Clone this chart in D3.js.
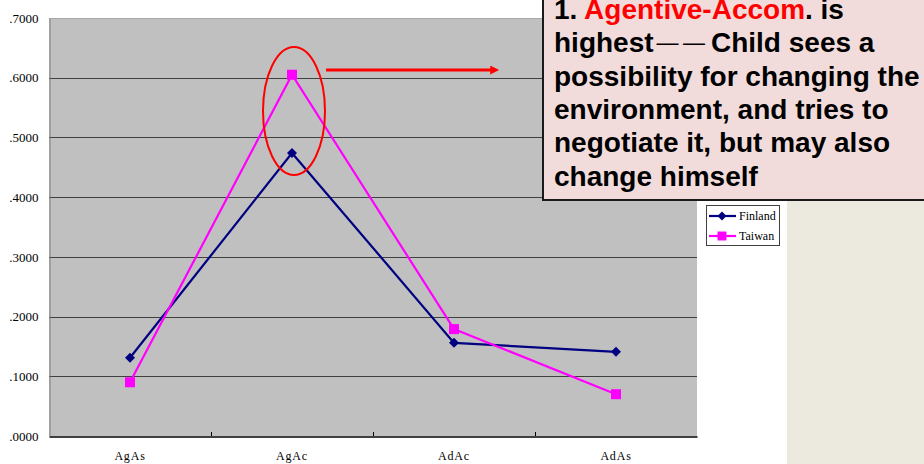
<!DOCTYPE html>
<html>
<head>
<meta charset="utf-8">
<script src="https://cdn.jsdelivr.net/npm/d3@7"></script>
<style>
  html, body { margin: 0; padding: 0; background: #fff; }
  svg { display: block; }
</style>
</head>
<body>
<div id="chart"></div>
<script>
// categories and series
const categories = ["AgAs", "AgAc", "AdAc", "AdAs"];
const finland = [0.131, 0.474, 0.156, 0.141];
const taiwan = [0.090, 0.605, 0.179, 0.070];
const yTicks = [0, 0.1, 0.2, 0.3, 0.4, 0.5, 0.6, 0.7];
// note text, split in runs (red highlight, thin dashes)
const noteLines = [
  [{ t: "1. " }, { t: "Agentive-Accom", c: "#ff0000" }, { t: ". is" }],
  [{ t: "highest" }, { t: "\u2014\u2009\u2014", dash: true }, { t: "Child sees a", after: true }],
  [{ t: "possibility for changing the" }],
  [{ t: "environment, and tries to" }],
  [{ t: "negotiate it, but may also" }],
  [{ t: "change himself" }]
];

const W = 924, H = 464;
const plot = { left: 49, right: 697, top: 18, bottom: 436 };
const serif = "'Liberation Serif', 'DejaVu Serif', serif";

const svg = d3.select("#chart").append("svg")
  .attr("width", W).attr("height", H);

// slide background on the right
svg.append("rect")
  .attr("x", 787).attr("y", 0)
  .attr("width", W - 787).attr("height", H)
  .attr("fill", "#ece9df");

const x = d3.scaleBand()
  .domain(categories)
  .range([plot.left, plot.right]);

const y = d3.scaleLinear()
  .domain([0, 0.7])
  .range([plot.bottom, plot.top]);

// plot area
svg.append("rect")
  .attr("x", plot.left).attr("y", plot.top)
  .attr("width", plot.right - plot.left)
  .attr("height", plot.bottom - plot.top)
  .attr("fill", "#c0c0c0");

// gridlines
svg.append("g")
  .selectAll("line")
  .data(yTicks.filter(d => d > 0))
  .join("line")
  .attr("x1", plot.left).attr("x2", plot.right)
  .attr("y1", d => Math.round(y(d)) + 0.5)
  .attr("y2", d => Math.round(y(d)) + 0.5)
  .attr("stroke", d => d === 0.7 ? "#a8a8a8" : "#404040")
  .attr("stroke-width", 1);

// y axis
const yAxis = svg.append("g")
  .attr("transform", `translate(${plot.left + 0.5},0)`)
  .call(d3.axisLeft(y).tickValues(yTicks).tickSize(0).tickPadding(11)
    .tickFormat(d => d3.format(".4f")(d).replace(/^0/, "")));
yAxis.select(".domain").attr("stroke", "#808080");
yAxis.selectAll("text")
  .attr("font-family", serif)
  .attr("font-size", "13px")
  .attr("fill", "#000");

// x axis
const xAxis = svg.append("g")
  .attr("transform", `translate(0,${plot.bottom + 0.5})`)
  .call(d3.axisBottom(x).tickSize(0).tickPadding(15));
xAxis.select(".domain").attr("stroke", "#000").attr("stroke-width", 1.5);
xAxis.selectAll("text")
  .attr("font-family", serif)
  .attr("font-size", "12px")
  .attr("letter-spacing", "0.8px")
  .attr("fill", "#000");

// category separator ticks (pointing into the plot)
svg.append("g")
  .selectAll("line")
  .data(categories.slice(1))
  .join("line")
  .attr("x1", d => Math.round(x(d)) + 0.5)
  .attr("x2", d => Math.round(x(d)) + 0.5)
  .attr("y1", plot.bottom - 4).attr("y2", plot.bottom)
  .attr("stroke", "#000");

// square diamond marker
const diamond = {
  draw(ctx, size) {
    const r = Math.sqrt(size / 2);
    ctx.moveTo(0, -r);
    ctx.lineTo(r, 0);
    ctx.lineTo(0, r);
    ctx.lineTo(-r, 0);
    ctx.closePath();
  }
};

// series
const series = [
  { name: "Finland", values: finland, color: "#000080", shape: diamond, size: 50 },
  { name: "Taiwan", values: taiwan, color: "#ff00ff", shape: d3.symbolSquare, size: 100 }
];

const line = d3.line()
  .x((d, i) => x(categories[i]) + x.bandwidth() / 2)
  .y(d => y(d));

series.forEach(s => {
  svg.append("path")
    .datum(s.values)
    .attr("d", line)
    .attr("fill", "none")
    .attr("stroke", s.color)
    .attr("stroke-width", 2.2);

  svg.append("g")
    .selectAll("path")
    .data(s.values)
    .join("path")
    .attr("transform", (d, i) => `translate(${x(categories[i]) + x.bandwidth() / 2},${y(d)})`)
    .attr("d", d3.symbol().type(s.shape).size(s.size))
    .attr("fill", s.color);
});

// legend
const legend = svg.append("g").attr("transform", "translate(706,205)");
legend.append("rect")
  .attr("x", 0.5).attr("y", 0.5)
  .attr("width", 73).attr("height", 40)
  .attr("fill", "#fff")
  .attr("stroke", "#404040");
series.forEach((s, i) => {
  const g = legend.append("g").attr("transform", `translate(0,${11 + i * 20})`);
  g.append("line")
    .attr("x1", 3).attr("x2", 30)
    .attr("stroke", s.color).attr("stroke-width", 2.2);
  g.append("path")
    .attr("transform", "translate(16,0)")
    .attr("d", d3.symbol().type(s.shape).size(s.size * 0.8))
    .attr("fill", s.color);
  g.append("text")
    .attr("x", 33).attr("y", 4)
    .attr("font-family", serif)
    .attr("font-size", "12px")
    .attr("fill", "#000")
    .text(s.name);
});

// highlight ellipse around the AgAc peak
const peakX = x("AgAc") + x.bandwidth() / 2;
svg.append("ellipse")
  .attr("cx", peakX + 2).attr("cy", 111)
  .attr("rx", 31).attr("ry", 64)
  .attr("fill", "none")
  .attr("stroke", "#ff0000")
  .attr("stroke-width", 2);

// arrow
svg.append("defs").append("marker")
  .attr("id", "arrowhead")
  .attr("viewBox", "0 0 10 10")
  .attr("refX", 2).attr("refY", 5)
  .attr("markerWidth", 3.2).attr("markerHeight", 3)
  .attr("orient", "auto")
  .append("path")
  .attr("d", "M0,0 L10,5 L0,10 Z")
  .attr("fill", "#ff0000");
svg.append("line")
  .attr("x1", 326).attr("x2", 492)
  .attr("y1", 70).attr("y2", 70)
  .attr("stroke", "#ff0000")
  .attr("stroke-width", 3)
  .attr("marker-end", "url(#arrowhead)");

// note box
svg.append("rect")
  .attr("x", 543).attr("y", -10)
  .attr("width", 400).attr("height", 210)
  .attr("fill", "#f2dcdb")
  .attr("stroke", "#1a1a1a")
  .attr("stroke-width", 2);

const note = svg.append("text")
  .attr("font-family", "'Liberation Sans', Arial, sans-serif")
  .attr("font-weight", "bold")
  .attr("font-size", "28px")
  .attr("fill", "#000");
noteLines.forEach((parts, i) => {
  parts.forEach((p, j) => {
    const span = note.append("tspan").text(p.t);
    if (p.c) span.attr("fill", p.c);
    if (p.dash) {
      span.attr("font-weight", "normal")
        .attr("font-size", "22px")
        .attr("dx", 3).attr("dy", -2);
    }
    if (p.after) span.attr("dx", 6).attr("dy", 2);
    if (j === 0) span.attr("x", 554).attr("y", 19 + i * 33.3);
  });
});
</script>
</body>
</html>
